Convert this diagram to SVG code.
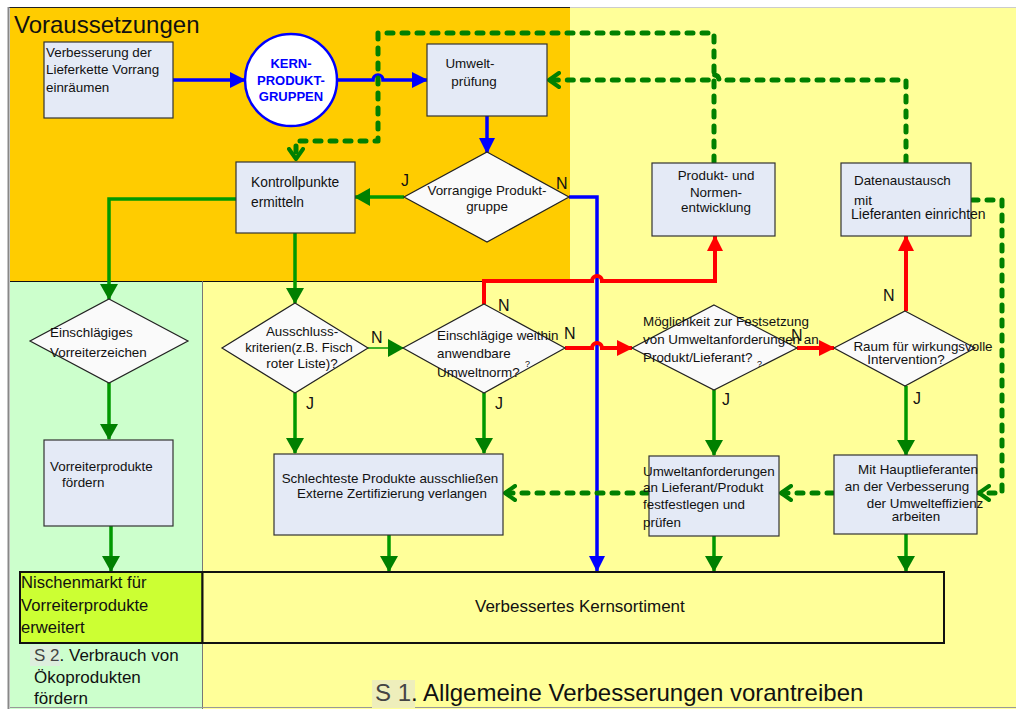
<svg xmlns="http://www.w3.org/2000/svg" width="1016" height="709" viewBox="0 0 1016 709">
<style>
text{font-family:"Liberation Sans",Arial,sans-serif;fill:#111}
.t{font-size:13.4px}
.lbl{font-size:16px}
.box{fill:#E4EAF6;stroke:#333;stroke-width:1.2}
.dia{fill:#FAFAFA;stroke:#222;stroke-width:1.2}
.g{fill:none;stroke:#009900;stroke-width:3.5}
.b{fill:none;stroke:#0000FF;stroke-width:3.5}
.r{fill:none;stroke:#FF0000;stroke-width:4}
.d{fill:none;stroke:#008000;stroke-width:5;stroke-dasharray:6 9;stroke-linecap:round;stroke-linejoin:round}
</style>
<defs>
<marker id="ag" markerUnits="userSpaceOnUse" viewBox="0 0 16 18" markerWidth="16" markerHeight="18" refX="15" refY="9" orient="auto"><path d="M0,0 L16,9 L0,18 z" fill="#008000"/></marker>
<marker id="ab" markerUnits="userSpaceOnUse" viewBox="0 0 16 16" markerWidth="16" markerHeight="16" refX="15" refY="8" orient="auto"><path d="M0,0 L16,8 L0,16 z" fill="#0000FF"/></marker>
<marker id="ar" markerUnits="userSpaceOnUse" viewBox="0 0 16 16" markerWidth="16" markerHeight="16" refX="15" refY="8" orient="auto"><path d="M0,0 L16,8 L0,16 z" fill="#FF0000"/></marker>
<marker id="ch" markerUnits="userSpaceOnUse" viewBox="0 0 14 18" markerWidth="14" markerHeight="18" refX="12" refY="9" orient="auto"><path d="M2,2 L12,9 L2,16" fill="none" stroke="#008000" stroke-width="4" stroke-linecap="round" stroke-linejoin="round"/></marker>
</defs>

<!-- backgrounds -->
<rect x="0" y="0" width="1016" height="709" fill="#FFFFFF"/>
<rect x="10" y="8" width="1006" height="701" fill="#FFFF99"/>
<rect x="10" y="8" width="560" height="273" fill="#FFCC00"/>
<rect x="10" y="281" width="192.5" height="428" fill="#CCFFCC"/>
<line x1="10" y1="281.5" x2="570" y2="281.5" stroke="#111" stroke-width="1"/>
<line x1="202.5" y1="281" x2="202.5" y2="709" stroke="#777" stroke-width="1"/>
<line x1="9" y1="7.5" x2="570" y2="7.5" stroke="#222" stroke-width="1"/>
<line x1="570" y1="7.5" x2="1016" y2="7.5" stroke="#ccc" stroke-width="1"/>
<line x1="8.5" y1="7" x2="8.5" y2="709" stroke="#888" stroke-width="2"/>
<line x1="10" y1="707.5" x2="1016" y2="707.5" stroke="#999" stroke-width="1"/>
<text x="14" y="33" style="font-size:24px">Voraussetzungen</text>

<!-- connectors -->
<g id="connectors">
<path class="b" d="M173,80 L245,80" marker-end="url(#ab)"/>
<path class="b" d="M337,80 L373,80 A5,5 0 0 1 383,80 L427,80" marker-end="url(#ab)"/>
<path class="b" d="M487,116 L487,153" marker-end="url(#ab)"/>
<path class="b" d="M569,197 L597,197 L597,571" marker-end="url(#ab)"/>

<path class="g" d="M404,197 L355,197" marker-end="url(#ag)"/>
<path class="g" d="M236,199 L109,199 L109,299" marker-end="url(#ag)"/>
<path class="g" d="M295,233 L295,303" marker-end="url(#ag)"/>
<path class="g" d="M109,383 L109,439" marker-end="url(#ag)"/>
<path class="g" d="M111,526 L111,571" marker-end="url(#ag)"/>
<path class="g" d="M295,393 L295,453" marker-end="url(#ag)"/>
<path class="g" style="stroke-width:1.5" d="M368,348 L403,348" marker-end="url(#ag)"/>
<path class="g" d="M484,393 L484,453" marker-end="url(#ag)"/>
<path class="g" d="M389,535 L389,571" marker-end="url(#ag)"/>
<path class="g" d="M714,390 L714,455" marker-end="url(#ag)"/>
<path class="g" d="M714,536 L714,571" marker-end="url(#ag)"/>
<path class="g" d="M906,386 L906,455" marker-end="url(#ag)"/>
<path class="g" d="M906,534 L906,571" marker-end="url(#ag)"/>

<path class="r" d="M484,304 L484,281 L592,281 A5,5 0 0 1 602,281 L715,281 L715,236" marker-end="url(#ar)"/>
<path class="r" d="M565,348 L592,348 A5,5 0 0 1 602,348 L632,348" marker-end="url(#ar)"/>
<path class="r" d="M797,348 L834,348" marker-end="url(#ar)"/>
<path class="r" d="M906,311 L906,236" marker-end="url(#ar)"/>

<path class="d" d="M714,162 L714,33 L378,33 L378,141 L296,141 L296,159" marker-end="url(#ch)"/>
<path class="d" d="M906,162 L906,80 L719,80 A5,5 0 0 0 709,80 L549,80" marker-end="url(#ch)"/>
<path class="d" d="M972,200 L1002,200 L1002,493 L979,493" marker-end="url(#ch)"/>
<path class="d" d="M833,493 L781,493" marker-end="url(#ch)"/>
<path class="d" d="M648,493 L505,493" marker-end="url(#ch)"/>
</g>

<!-- nodes -->
<g id="n_verbesserung">
<rect class="box" x="44" y="42" width="129" height="76"/>
<text class="t" x="46" y="57">Verbesserung der</text>
<text class="t" x="46" y="74">Lieferkette Vorrang</text>
<text class="t" x="46" y="92">einräumen</text>
</g>
<g id="n_kern">
<circle cx="291" cy="80" r="46" fill="#FFFFFF" stroke="#0000FF" stroke-width="2.5"/>
<text x="291" y="68" text-anchor="middle" style="font-size:13px;font-weight:bold;fill:#0000FF">KERN-</text>
<text x="291" y="85" text-anchor="middle" style="font-size:13px;font-weight:bold;fill:#0000FF">PRODUKT-</text>
<text x="291" y="101" text-anchor="middle" style="font-size:13px;font-weight:bold;fill:#0000FF">GRUPPEN</text>
</g>
<g id="n_umweltpruefung">
<rect class="box" x="427" y="44" width="120" height="72"/>
<text class="t" x="470" y="68" text-anchor="middle">Umwelt-</text>
<text class="t" x="474" y="86" text-anchor="middle">prüfung</text>
</g>
<g id="n_vorrangige">
<polygon class="dia" points="487,152 569,197 487,242 404,197"/>
<text class="t" x="487" y="195" text-anchor="middle">Vorrangige Produkt-</text>
<text class="t" x="487" y="211" text-anchor="middle">gruppe</text>
<text class="lbl" x="401" y="186">J</text>
<text class="lbl" x="556" y="189">N</text>
</g>
<g id="n_kontroll">
<rect class="box" x="236" y="162" width="119" height="71"/>
<text x="251" y="187" style="font-size:13.8px">Kontrollpunkte</text>
<text x="251" y="207" style="font-size:13.8px">ermitteln</text>
</g>
<g id="n_produktnormen">
<rect class="box" x="652" y="163" width="123" height="73"/>
<text class="t" x="716" y="180" text-anchor="middle">Produkt- und</text>
<text class="t" x="716" y="197" text-anchor="middle">Normen-</text>
<text class="t" x="716" y="212" text-anchor="middle">entwicklung</text>
</g>
<g id="n_datenaustausch">
<rect class="box" x="841" y="163" width="130" height="73"/>
<text class="t" x="854" y="185">Datenaustausch</text>
<text class="t" x="854" y="205">mit</text>
<text x="851" y="219" style="font-size:14px">Lieferanten einrichten</text>
</g>
<g id="n_vorreiterzeichen">
<polygon class="dia" points="109,299 188,341 109,383 30,341"/>
<text class="t" x="50" y="337">Einschlägiges</text>
<text class="t" x="50" y="357">Vorreiterzeichen</text>
</g>
<g id="n_ausschluss">
<polygon class="dia" points="295,303 368,348 295,393 222,348"/>
<text class="t" x="302" y="336" text-anchor="middle">Ausschluss-</text>
<text x="299" y="352" text-anchor="middle" style="font-size:13px">kriterien(z.B. Fisch</text>
<text class="t" x="302" y="368" text-anchor="middle">roter Liste)?</text>
<text class="lbl" x="371" y="343">N</text>
<text class="lbl" x="306" y="409">J</text>
</g>
<g id="n_umweltnorm">
<polygon class="dia" points="484,304 565,348 484,393 403,348"/>
<text class="t" x="437" y="340">Einschlägige weithin</text>
<text class="t" x="437" y="358">anwendbare</text>
<text class="t" x="437" y="377">Umweltnorm?</text>
<text x="525" y="367" style="font-size:9px">?</text>
<text class="lbl" x="498" y="311">N</text>
<text class="lbl" x="564" y="339">N</text>
<text class="lbl" x="495" y="409">J</text>
</g>
<g id="n_moeglichkeit">
<polygon class="dia" points="714,305 797,348 714,390 632,348"/>
<text class="t" x="643" y="326">Möglichkeit zur  Festsetzung</text>
<text class="t" x="643" y="344">von Umweltanforderungen an</text>
<text class="t" x="643" y="362">Produkt/Lieferant?</text>
<text x="757" y="367" style="font-size:9px">?</text>
<text class="lbl" x="791" y="341">N</text>
<text class="lbl" x="722" y="405">J</text>
</g>
<g id="n_raum">
<polygon class="dia" points="905,311 975,348 905,386 834,348"/>
<text class="t" x="923" y="351" text-anchor="middle">Raum für wirkungsvolle</text>
<text class="t" x="906" y="364" text-anchor="middle">Intervention?</text>
<text class="lbl" x="883" y="301">N</text>
<text class="lbl" x="913" y="404">J</text>
</g>
<g id="n_vorreiterprodukte">
<rect class="box" x="44" y="440" width="129" height="86"/>
<text class="t" x="50" y="471">Vorreiterprodukte</text>
<text class="t" x="62" y="487">fördern</text>
</g>
<g id="n_schlechteste">
<rect class="box" x="274" y="454" width="229" height="81"/>
<text class="t" x="390" y="483" text-anchor="middle">Schlechteste Produkte ausschließen</text>
<text class="t" x="392" y="498" text-anchor="middle">Externe Zertifizierung verlangen</text>
</g>
<g id="n_umweltanforderungen">
<rect class="box" x="649" y="456" width="130" height="80"/>
<text class="t" x="643" y="476">Umweltanforderungen</text>
<text class="t" x="643" y="492">an Lieferant/Produkt</text>
<text class="t" x="643" y="509">festfestlegen und</text>
<text class="t" x="643" y="527">prüfen</text>
</g>
<g id="n_hauptlieferanten">
<rect class="box" x="834" y="455" width="143" height="79"/>
<text class="t" x="918" y="474" text-anchor="middle">Mit Hauptlieferanten</text>
<text class="t" x="907" y="491" text-anchor="middle">an der Verbesserung</text>
<text class="t" x="925" y="508" text-anchor="middle">der Umwelteffizienz</text>
<text class="t" x="916" y="521" text-anchor="middle">arbeiten</text>
</g>
<g id="n_nischenmarkt">
<rect x="20" y="572" width="182.5" height="71" fill="#CCFF33" stroke="#111" stroke-width="2"/>
<text x="21" y="588" style="font-size:16.6px">Nischenmarkt für</text>
<text x="21" y="611" style="font-size:16.6px">Vorreiterprodukte</text>
<text x="21" y="633" style="font-size:16.6px">erweitert</text>
</g>
<g id="n_kernsortiment">
<rect x="202.5" y="572" width="741.5" height="71" fill="#FFFF99" stroke="#111" stroke-width="2"/>
<text x="475" y="612" style="font-size:17px">Verbessertes Kernsortiment</text>
</g>

<!-- section labels -->
<rect x="30" y="645" width="30" height="21" fill="#DDEEDD"/>
<text x="34" y="661" style="font-size:17px"><tspan fill="#444">S 2</tspan>. Verbrauch von</text>
<text x="34" y="683" style="font-size:17px">Ökoprodukten</text>
<text x="34" y="704" style="font-size:17px">fördern</text>
<rect x="372" y="680" width="43" height="28" fill="#EEEEBB"/>
<text x="375" y="701" style="font-size:24px"><tspan fill="#444">S 1</tspan>. Allgemeine Verbesserungen vorantreiben</text>
</svg>
